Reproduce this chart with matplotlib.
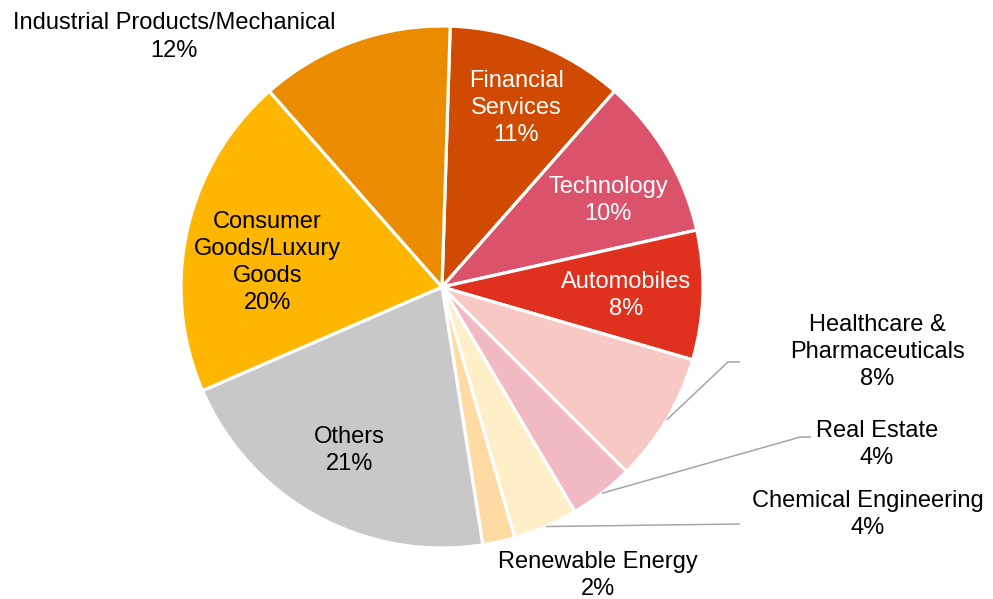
import numpy as np
import matplotlib
matplotlib.use("Agg")
import matplotlib.pyplot as plt

plt.rcParams["font.family"] = ["Liberation Sans", "DejaVu Sans"]

# sector split, clockwise from the top
sectors = ["Financial\nServices", "Technology", "Automobiles",
           "Healthcare &\nPharmaceuticals", "Real Estate",
           "Chemical Engineering", "Renewable Energy", "Others",
           "Consumer\nGoods/Luxury\nGoods", "Industrial Products/Mechanical"]
shares = [11, 10, 8, 8, 4, 4, 2, 21, 20, 12]
colors = ["#D04A02", "#DB536A", "#E0301E", "#F7C8C4", "#F1BAC3",
          "#FFEFC8", "#FFDAA3", "#C8C8C8", "#FFB600", "#EB8C00"]
text_colors = ["white", "white", "white", "black", "black",
               "black", "black", "black", "black", "black"]

# label centres in pie units (radius = 1) and leader-line points
label_pos = {
    0: (0.284, 0.686),
    1: (0.636, 0.330),
    2: (0.705, -0.031),
    3: (1.667, -0.249),
    4: (1.667, -0.602),
    5: (1.632, -0.872),
    6: (0.598, -1.107),
    7: (-0.356, -0.628),
    8: (-0.670, 0.094),
    9: (-1.027, 0.958),
}
leaders = {
    3: [(1.096, -0.287), (1.142, -0.287)],
    4: [(1.372, -0.575), (1.414, -0.575)],
    5: [(1.142, -0.908)],
}

fig = plt.figure(figsize=(9.93, 5.99), dpi=100)
ax = fig.add_axes([181 / 993, 51 / 599, 522 / 993, 522 / 599])

wedges, _ = ax.pie(shares, colors=colors, startangle=88.2, counterclock=False,
                   radius=1.0, wedgeprops=dict(edgecolor="white", linewidth=2.3))
ax.set_xlim(-1, 1)
ax.set_ylim(-1, 1)
ax.set_aspect("equal")
ax.axis("off")

fs = 17
ls = 1.3
for i, w in enumerate(wedges):
    mid = np.deg2rad((w.theta1 + w.theta2) / 2)
    if i in leaders:
        path = [(np.cos(mid), np.sin(mid))] + leaders[i]
        xs, ys = zip(*path)
        ax.plot(xs, ys, color="#A6A6A6", lw=1.1, clip_on=False,
                solid_capstyle="butt")
    tx, ty = label_pos[i]
    ax.text(tx, ty, f"{sectors[i]}\n{shares[i]}%", ha="center", va="center",
            fontsize=fs, color=text_colors[i], linespacing=ls, clip_on=False)

fig.savefig("out.png", dpi=100, facecolor="white")
